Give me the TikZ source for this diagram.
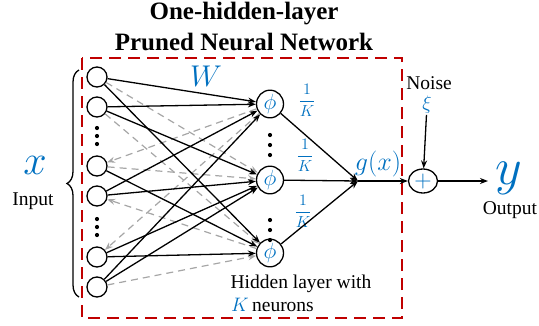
\documentclass[tikz,border=0pt]{standalone}
\usepackage{fix-cm}
\usepackage{amsmath}
\usepackage{fontspec}
\setmainfont{Liberation Serif}
\usetikzlibrary{shapes.geometric,arrows.meta,decorations.pathreplacing}
\definecolor{netblue}{RGB}{0,112,192}
\definecolor{boxred}{RGB}{192,0,0}

\begin{document}
\begin{tikzpicture}[x=1pt,y=-1pt,
  every node/.style={font=\fontsize{19.5}{22}\selectfont},
  neuron/.style={circle,draw,line width=1.3pt,minimum size=20pt,inner sep=0pt},
  hid/.style={ellipse,draw,line width=1.3pt,minimum width=27pt,minimum height=22pt,inner sep=0pt,text=netblue,font=\fontsize{22}{22}\selectfont},
  kept/.style={line width=1.3pt,-{Stealth[length=8pt,width=6pt]}},
  pruned/.style={line width=1.2pt,black!35,dash pattern=on 7pt off 5pt,-{Stealth[length=8pt,width=6pt]}},
  frac/.style={netblue,inner sep=0pt,font=\fontsize{16}{16}\selectfont},
  titlefont/.style={font=\fontsize{25}{31}\selectfont\bfseries}]
  \useasboundingbox (0,0) rectangle (539,325);

  % pruned network box and title
  \draw[boxred,line width=1.6pt,dash pattern=on 12pt off 7pt] (82,58) rectangle (402,318);
  \node[titlefont,anchor=base] (title1) at (244,19.5) {One-hidden-layer};
  \node[titlefont,anchor=base] (title2) at (244,50) {Pruned Neural Network};

  % input layer
  \foreach \y [count=\i] in {77,107,166,196,257,287}
    \node[neuron] (in\i) at (97,\y) {};
  \foreach \y in {128,136,144,219,227,235}
    \fill (97,\y) circle (2.1pt);
  \draw[line width=1.3pt,decorate,decoration={brace,amplitude=12pt}] (79,297) -- (79,70);
  \node[netblue,font=\fontsize{42}{42}\selectfont] (xin) at (35,165) {$x$};
  \node (inlab) at (33,201) {Input};

  % hidden layer
  \foreach \y [count=\j] in {104,180,253}
    \node[hid] (h\j) at (270,\y) {$\phi$};
  \foreach \y in {135,145,155,220,230,240}
    \fill (270,\y) circle (2.1pt);
  \node[netblue,font=\fontsize{30}{30}\selectfont] (wlab) at (206,76) {$W$};
  \node[anchor=base] (hidlab) at (301,288) {Hidden layer with};
  \node[anchor=base west,inner sep=0pt] (klab) at (231,311) {\textcolor{netblue}{$K$}\,neurons};

  % pruned weights
  \foreach \a/\b in {in1/h2,in2/h3,in3/h2,in6/h3,h1/in3,h3/in4,h1/in5}
    \draw[pruned] (\a) -- (\b);
  % kept weights
  \foreach \a/\b in {in1/h1,in1/h3,in2/h1,in2/h2,in3/h3,in4/h1,in4/h2,in5/h2,in5/h3,in6/h1,in6/h2}
    \draw[kept] (\a) -- (\b);

  % output layer
  \coordinate (sum) at (358,181);
  \node[frac] (k1) at (307,100) {$\dfrac{1}{K}$};
  \node[frac] (k2) at (305,155) {$\dfrac{1}{K}$};
  \node[frac] (k3) at (303,211) {$\dfrac{1}{K}$};
  \foreach \j in {1,2,3}
    \draw[kept] (h\j) -- (sum);
  \node[netblue,font=\fontsize{26}{26}\selectfont] (glab) at (378,164) {$g(x)$};
  \node[ellipse,draw,line width=1.3pt,minimum width=29pt,minimum height=24pt,inner sep=0pt,text=netblue,font=\fontsize{24}{24}\selectfont] (plus) at (423,181) {$+$};
  \node (noise) at (429,83) {Noise};
  \node[netblue,inner sep=1pt] (xi) at (427,105) {$\xi$};
  \coordinate (outend) at (488,181);
  \draw[kept] (sum) -- (plus);
  \draw[kept] (xi) -- (plus);
  \draw[kept] (plus) -- (outend);
  \node[netblue,font=\fontsize{52}{52}\selectfont] (yout) at (509,178) {$y$};
  \node (outlab) at (510,210) {Output};
\end{tikzpicture}
\end{document}
